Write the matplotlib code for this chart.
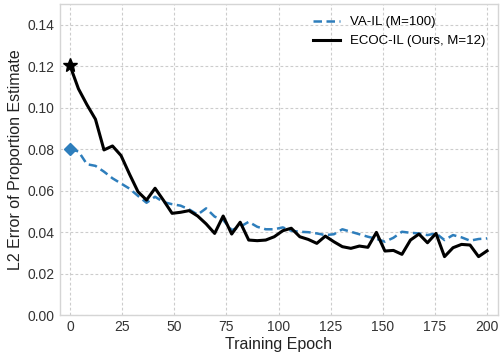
import numpy as np
import matplotlib
matplotlib.use("Agg")
import matplotlib.pyplot as plt

plt.rcParams['font.family'] = ['Liberation Sans', 'DejaVu Sans']

epochs = np.linspace(0, 200, 50)

va_il = [0.0800, 0.0790, 0.0728, 0.0720, 0.0692, 0.0660, 0.0635, 0.0610, 0.0575, 0.0542,
         0.0571, 0.0545, 0.0535, 0.0528, 0.0510, 0.0485, 0.0515, 0.0475, 0.0459, 0.0410,
         0.0426, 0.0450, 0.0426, 0.0414, 0.0414, 0.0423, 0.0407, 0.0402, 0.0400, 0.0394,
         0.0386, 0.0390, 0.0414, 0.0402, 0.0390, 0.0378, 0.0368, 0.0354, 0.0373, 0.0402,
         0.0397, 0.0394, 0.0386, 0.0394, 0.0362, 0.0386, 0.0375, 0.0359, 0.0367, 0.0370]

ecoc_il = [0.1205, 0.1092, 0.1015, 0.0945, 0.0797, 0.0816, 0.0770, 0.0680, 0.0595, 0.0555,
           0.0612, 0.0553, 0.0491, 0.0496, 0.0504, 0.0478, 0.0440, 0.0394, 0.0478, 0.0391,
           0.0448, 0.0362, 0.0359, 0.0362, 0.0378, 0.0407, 0.0419, 0.0378, 0.0365, 0.0346,
           0.0381, 0.0354, 0.0330, 0.0322, 0.0333, 0.0327, 0.0399, 0.0309, 0.0312, 0.0293,
           0.0362, 0.0391, 0.0349, 0.0394, 0.0282, 0.0325, 0.0341, 0.0338, 0.0282, 0.0310]

labels = ['VA-IL (M=100)', 'ECOC-IL (Ours, M=12)']
blue = '#2e7ebc'

fig = plt.figure(figsize=(5.0, 3.54), dpi=100)
ax = fig.add_axes([0.119, 0.110, 0.876, 0.878])

ax.plot(epochs, va_il, color=blue, lw=1.8, ls=(0, (3.4, 1.8)), label=labels[0], zorder=3)
ax.plot(epochs, ecoc_il, color='black', lw=2.2, label=labels[1], zorder=4)
ax.plot(epochs[0], va_il[0], marker='D', color=blue, ms=6.5, zorder=5)
ax.plot(epochs[0], ecoc_il[0], marker='*', color='black', ms=10, zorder=5)

ax.set_xlim(-5, 205)
ax.set_ylim(0, 0.15)
ax.set_xticks([0, 25, 50, 75, 100, 125, 150, 175, 200])
ax.set_yticks([0.00, 0.02, 0.04, 0.06, 0.08, 0.10, 0.12, 0.14])
ax.set_yticklabels([f'{v:.2f}' for v in ax.get_yticks()])
ax.tick_params(axis='both', length=0, labelsize=10, colors='#333333', pad=3.5)
ax.grid(True, color='#cccccc', lw=0.8, ls=(0, (2.5, 2.0)))
for s in ax.spines.values():
    s.set_color('#d5d5d5')
    s.set_linewidth(1.0)

ax.set_xlabel('Training Epoch', fontsize=11.5, color='#222222', labelpad=2)
ax.set_ylabel('L2 Error of Proportion Estimate', fontsize=11.5, color='#222222', labelpad=3)

ax.legend(loc='upper right', frameon=False, fontsize=9.5, handlelength=2.0,
          borderaxespad=0.5, labelspacing=0.5)

fig.savefig('out.png', dpi=100, facecolor='white')
